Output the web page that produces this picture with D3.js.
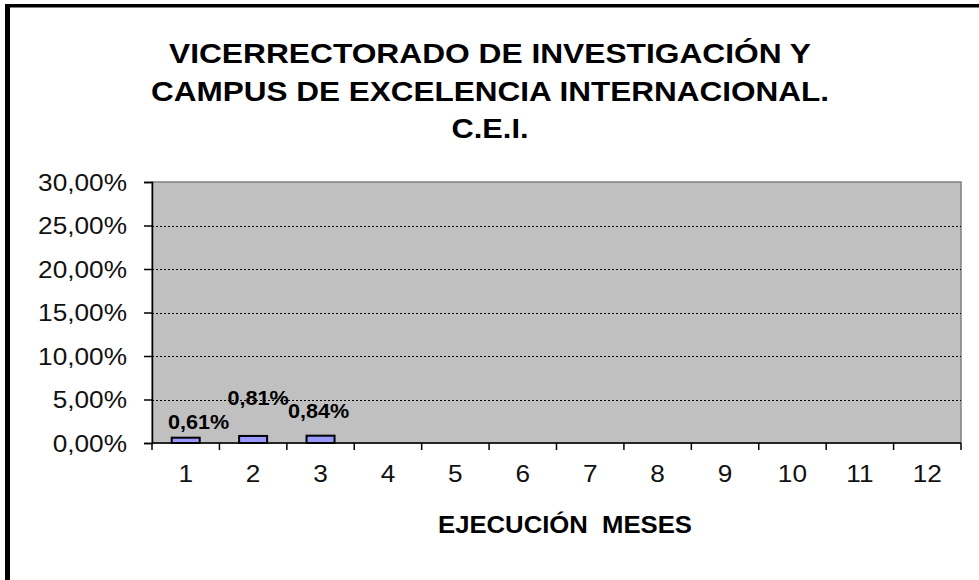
<!DOCTYPE html>
<html>
<head>
<meta charset="utf-8">
<script src="https://cdn.jsdelivr.net/npm/d3@7"></script>
<style>
  body { margin: 0; background: #fff; }
  text { font-family: "Liberation Sans", Arial, sans-serif; }
</style>
</head>
<body>
<div id="chart-area"></div>
<script>
/*
*    ejecucion C.E.I.
*/

var months = ["1", "2", "3", "4", "5", "6", "7", "8", "9", "10", "11", "12"];
var ejecucion = [0.61, 0.81, 0.84];          // % ejecutado, meses 1-3
var yTicks = [0, 5, 10, 15, 20, 25, 30];
var titleLines = ["VICERRECTORADO DE INVESTIGACIÓN Y",
                  "CAMPUS DE EXCELENCIA INTERNACIONAL.",
                  "C.E.I."];
var xTitle = "EJECUCIÓN  MESES";

// label nudges (Excel moved them by hand)
var labelNudge = [[13, -9], [5, -31], [-2, -18]];

var W = 979, H = 580;
var plot = {left: 152, top: 182, right: 961, bottom: 443};

var es = d3.formatLocale({decimal: ",", thousands: ".", grouping: [3], currency: ["", " €"]});
var pct = es.format(".2f");

var svg = d3.select("#chart-area").append("svg")
    .attr("width", W)
    .attr("height", H);

// outer frame (only left and top visible)
svg.append("rect").attr("x", 5).attr("y", 4).attr("width", 5).attr("height", H).attr("fill", "#000");
svg.append("rect").attr("x", 5).attr("y", 4).attr("width", W).attr("height", 3.5).attr("fill", "#000");

// title
svg.selectAll(".title")
   .data(titleLines)
   .enter()
   .append("text")
     .attr("class", "title")
     .attr("x", 490)
     .attr("y", (d, i) => 63 + i * 37.5)
     .attr("text-anchor", "middle")
     .attr("font-size", "28px")
     .attr("font-weight", "bold")
     .attr("fill", "#000")
     .attr("textLength", (d, i) => [642, 678, 77][i])
     .attr("lengthAdjust", "spacingAndGlyphs")
     .text((d) => d);

var x = d3.scaleBand()
          .domain(months)
          .range([plot.left, plot.right])
          .paddingInner(0)
          .paddingOuter(0);

var y = d3.scaleLinear()
          .domain([0, 30])
          .range([plot.bottom, plot.top]);

// plot area
svg.append("rect")
   .attr("x", plot.left)
   .attr("y", plot.top)
   .attr("width", plot.right - plot.left)
   .attr("height", plot.bottom - plot.top)
   .attr("fill", "#c0c0c0")
   .attr("stroke", "#808080")
   .attr("stroke-width", 1.5);

// gridlines
svg.selectAll(".grid")
   .data(yTicks.filter((d) => d > 0 && d < 30))
   .enter()
   .append("line")
     .attr("class", "grid")
     .attr("x1", plot.left)
     .attr("x2", plot.right)
     .attr("y1", (d) => Math.round(y(d)) + 0.5)
     .attr("y2", (d) => Math.round(y(d)) + 0.5)
     .attr("stroke", "#000")
     .attr("stroke-width", 1)
     .attr("stroke-dasharray", "2,2");

// bars
var barW = 28;
svg.selectAll(".bar")
   .data(ejecucion)
   .enter()
   .append("rect")
     .attr("class", "bar")
     .attr("x", (d, i) => x(months[i]) + x.bandwidth() / 2 - barW / 2)
     .attr("y", (d) => y(d))
     .attr("width", barW)
     .attr("height", (d) => y(0) - y(d))
     .attr("fill", "#9999ff")
     .attr("stroke", "#000")
     .attr("stroke-width", 2);

// data labels
svg.selectAll(".lbl")
   .data(ejecucion)
   .enter()
   .append("text")
     .attr("class", "lbl")
     .attr("text-anchor", "middle")
     .attr("font-size", "20px")
     .attr("font-weight", "bold")
     .attr("fill", "#000")
     .attr("transform", (d, i) => "translate(" + (x(months[i]) + x.bandwidth() / 2 + labelNudge[i][0]) + "," +
                                  (y(d) + labelNudge[i][1]) + ") scale(1.08,1)")
     .text((d) => pct(d) + "%");

// y axis
var leftAxis = d3.axisLeft(y)
                 .tickValues(yTicks)
                 .tickSize(8)
                 .tickFormat((d) => pct(d) + "%");
var ga = svg.append("g")
   .attr("class", "left axis")
   .attr("transform", "translate(" + plot.left + ",0)")
   .call(leftAxis);
ga.select(".domain").attr("stroke", "#000").attr("stroke-width", 1.5);
ga.selectAll(".tick line").attr("stroke", "#000").attr("stroke-width", 1.5);
ga.selectAll(".tick text")
  .attr("x", null)
  .attr("dy", "0.36em")
  .attr("font-size", "23px")
  .attr("font-family", "Liberation Sans, Arial, sans-serif")
  .attr("fill", "#111")
  .attr("transform", "translate(-25,0) scale(1.14,1)");

// x axis: ticks at category edges, labels centred
svg.append("line")
   .attr("x1", plot.left).attr("x2", plot.right)
   .attr("y1", plot.bottom).attr("y2", plot.bottom)
   .attr("stroke", "#000").attr("stroke-width", 1.5);

svg.selectAll(".xtick")
   .data(months.map((m) => x(m)).concat([plot.right]))
   .enter()
   .append("line")
     .attr("class", "xtick")
     .attr("x1", (d) => d).attr("x2", (d) => d)
     .attr("y1", plot.bottom).attr("y2", plot.bottom + 7)
     .attr("stroke", "#000").attr("stroke-width", 1.5);

svg.selectAll(".xlbl")
   .data(months)
   .enter()
   .append("text")
     .attr("class", "xlbl")
     .attr("text-anchor", "middle")
     .attr("font-size", "23px")
     .attr("fill", "#111")
     .attr("transform", (d) => "translate(" + (x(d) + x.bandwidth() / 2) + ",482) scale(1.14,1)")
     .text((d) => d);

// x axis title
svg.append("text")
   .attr("x", 565)
   .attr("y", 533)
   .attr("text-anchor", "middle")
   .attr("font-size", "24px")
   .attr("font-weight", "bold")
   .attr("fill", "#000")
   .attr("xml:space", "preserve")
   .style("white-space", "pre")
   .attr("textLength", 254)
   .attr("lengthAdjust", "spacingAndGlyphs")
   .text(xTitle);
</script>
</body>
</html>
